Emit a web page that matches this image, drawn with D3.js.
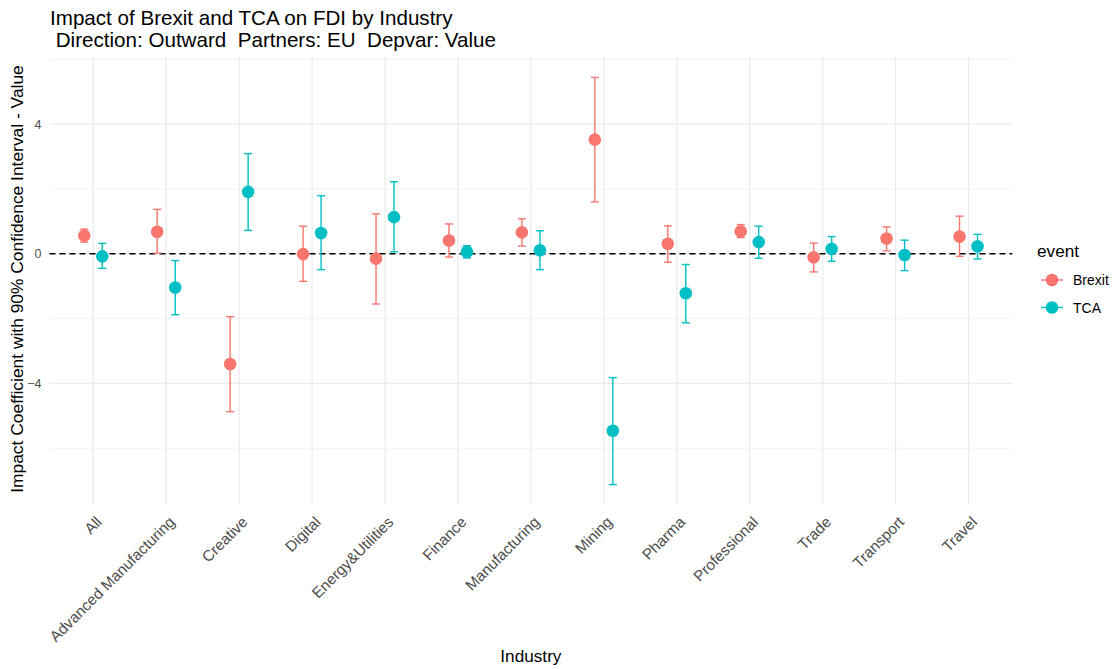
<!DOCTYPE html>
<html><head><meta charset="utf-8">
<script src="https://cdn.jsdelivr.net/npm/d3@7"></script>
<style>body{margin:0;background:#fff}svg{display:block;font-family:"Liberation Sans",Arial,sans-serif}</style>
</head><body><svg id="c" width="1115" height="669"></svg>
<script>
const industries = ["All","Advanced Manufacturing","Creative","Digital","Energy&Utilities","Finance","Manufacturing","Mining","Pharma","Professional","Trade","Transport","Travel"];
const events = ["Brexit","TCA"];
const colors = ["#F8766D","#00BFC4"];
const brexitEst = [0.56,0.68,-3.40,-0.01,-0.15,0.41,0.66,3.52,0.31,0.69,-0.11,0.47,0.53];
const brexitLo  = [0.36,0.02,-4.87,-0.85,-1.55,-0.10,0.24,1.60,-0.26,0.50,-0.56,0.09,-0.08];
const brexitHi  = [0.76,1.37,-1.94,0.85,1.23,0.92,1.08,5.44,0.86,0.90,0.33,0.83,1.16];
const tcaEst = [-0.08,-1.04,1.91,0.64,1.13,0.06,0.11,-5.46,-1.22,0.36,0.15,-0.04,0.23];
const tcaLo  = [-0.45,-1.88,0.72,-0.49,0.06,-0.13,-0.49,-7.12,-2.13,-0.14,-0.23,-0.52,-0.16];
const tcaHi  = [0.32,-0.21,3.09,1.79,2.22,0.25,0.71,-3.82,-0.33,0.85,0.53,0.42,0.60];
const yTicks = [-4,0,4];
const yMinor = [-6,-2,2,6];

const rows = [];
industries.forEach((ind,i)=>{
  rows.push({ind, ev:"Brexit", est:brexitEst[i], lo:brexitLo[i], hi:brexitHi[i]});
  rows.push({ind, ev:"TCA", est:tcaEst[i], lo:tcaLo[i], hi:tcaHi[i]});
});

const svg = d3.select("#c");
const L=49.5, R=1012.3, T=57, B=505;
const x = d3.scalePoint().domain(industries).range([L,R]).padding(0.6);
const y = d3.scaleLinear().domain([-7.75,6.07]).range([B,T]);
const color = d3.scaleOrdinal().domain(events).range(colors);
const dodge = d3.scalePoint().domain(events).range([-9,9]);

// grid
const g = svg.append("g");
g.selectAll(".ymin").data(yMinor).join("line")
  .attr("x1",L).attr("x2",R).attr("y1",d=>y(d)).attr("y2",d=>y(d))
  .attr("stroke","#EBEBEB").attr("stroke-width",0.6);
g.selectAll(".ymaj").data(yTicks).join("line")
  .attr("x1",L).attr("x2",R).attr("y1",d=>y(d)).attr("y2",d=>y(d))
  .attr("stroke","#EBEBEB").attr("stroke-width",1.2);
g.selectAll(".xmaj").data(industries).join("line")
  .attr("x1",d=>x(d)).attr("x2",d=>x(d)).attr("y1",T).attr("y2",B)
  .attr("stroke","#EBEBEB").attr("stroke-width",1.2);

// y axis labels
const yAx = svg.append("g").attr("transform",`translate(${L},0)`)
  .call(d3.axisLeft(y).tickValues(yTicks).tickSize(0).tickPadding(8));
yAx.select(".domain").remove();
yAx.selectAll("text").attr("fill","#4D4D4D").style("font-size","12.5px").style("font-family","Liberation Sans, Arial, sans-serif");

// x axis labels
const xAx = svg.append("g").attr("transform",`translate(0,${B})`)
  .call(d3.axisBottom(x).tickSize(0).tickPadding(0));
xAx.select(".domain").remove();
xAx.selectAll("text").attr("fill","#4D4D4D").style("font-size","15.3px")
  .style("font-family","Liberation Sans, Arial, sans-serif")
  .attr("text-anchor","end").attr("dy",null).attr("y",0)
  .attr("transform","translate(9,18) rotate(-45)");

// zero line
svg.append("line").attr("x1",L).attr("x2",R).attr("y1",y(0)).attr("y2",y(0))
  .attr("stroke","#000").attr("stroke-width",1.5).attr("stroke-dasharray","6,4");

// error bars
const eb = svg.append("g").selectAll("g").data(rows).join("g")
  .attr("stroke",d=>color(d.ev)).attr("stroke-width",1.4).attr("fill","none");
eb.append("line").attr("x1",d=>x(d.ind)+dodge(d.ev)).attr("x2",d=>x(d.ind)+dodge(d.ev))
  .attr("y1",d=>y(d.lo)).attr("y2",d=>y(d.hi));
eb.append("line").attr("x1",d=>x(d.ind)+dodge(d.ev)-4).attr("x2",d=>x(d.ind)+dodge(d.ev)+4)
  .attr("y1",d=>y(d.lo)).attr("y2",d=>y(d.lo));
eb.append("line").attr("x1",d=>x(d.ind)+dodge(d.ev)-4).attr("x2",d=>x(d.ind)+dodge(d.ev)+4)
  .attr("y1",d=>y(d.hi)).attr("y2",d=>y(d.hi));

// points
svg.append("g").selectAll("circle").data(rows).join("circle")
  .attr("cx",d=>x(d.ind)+dodge(d.ev)).attr("cy",d=>y(d.est)).attr("r",6.3)
  .attr("fill",d=>color(d.ev));

// titles
svg.append("text").attr("x",50).attr("y",25).attr("font-size","20.6px").attr("fill","#000")
  .text("Impact of Brexit and TCA on FDI by Industry");
svg.append("text").attr("x",50).attr("y",47).attr("font-size","20.6px").attr("fill","#000")
  .attr("xml:space","preserve").style("white-space","pre")
  .text(" Direction: Outward  Partners: EU  Depvar: Value");
svg.append("text").attr("x",(L+R)/2).attr("y",662).attr("text-anchor","middle")
  .attr("font-size","17.2px").attr("fill","#000").text("Industry");
svg.append("text").attr("transform",`translate(23,${(T+B)/2 - 2}) rotate(-90)`)
  .attr("text-anchor","middle").attr("font-size","17.4px").attr("fill","#000")
  .text("Impact Coefficient with 90% Confidence Interval - Value");

// legend
const lg = svg.append("g");
lg.append("text").attr("x",1037).attr("y",257).attr("font-size","17.2px").attr("fill","#000").text("event");
events.forEach((ev,i)=>{
  const cy = 280 + i*27.5;
  lg.append("line").attr("x1",1041).attr("x2",1063).attr("y1",cy).attr("y2",cy)
    .attr("stroke",color(ev)).attr("stroke-width",1.4);
  lg.append("circle").attr("cx",1052).attr("cy",cy).attr("r",6.3).attr("fill",color(ev));
  lg.append("text").attr("x",1073).attr("y",cy+5).attr("font-size","14px").attr("fill","#000").text(ev);
});
</script></body></html>
